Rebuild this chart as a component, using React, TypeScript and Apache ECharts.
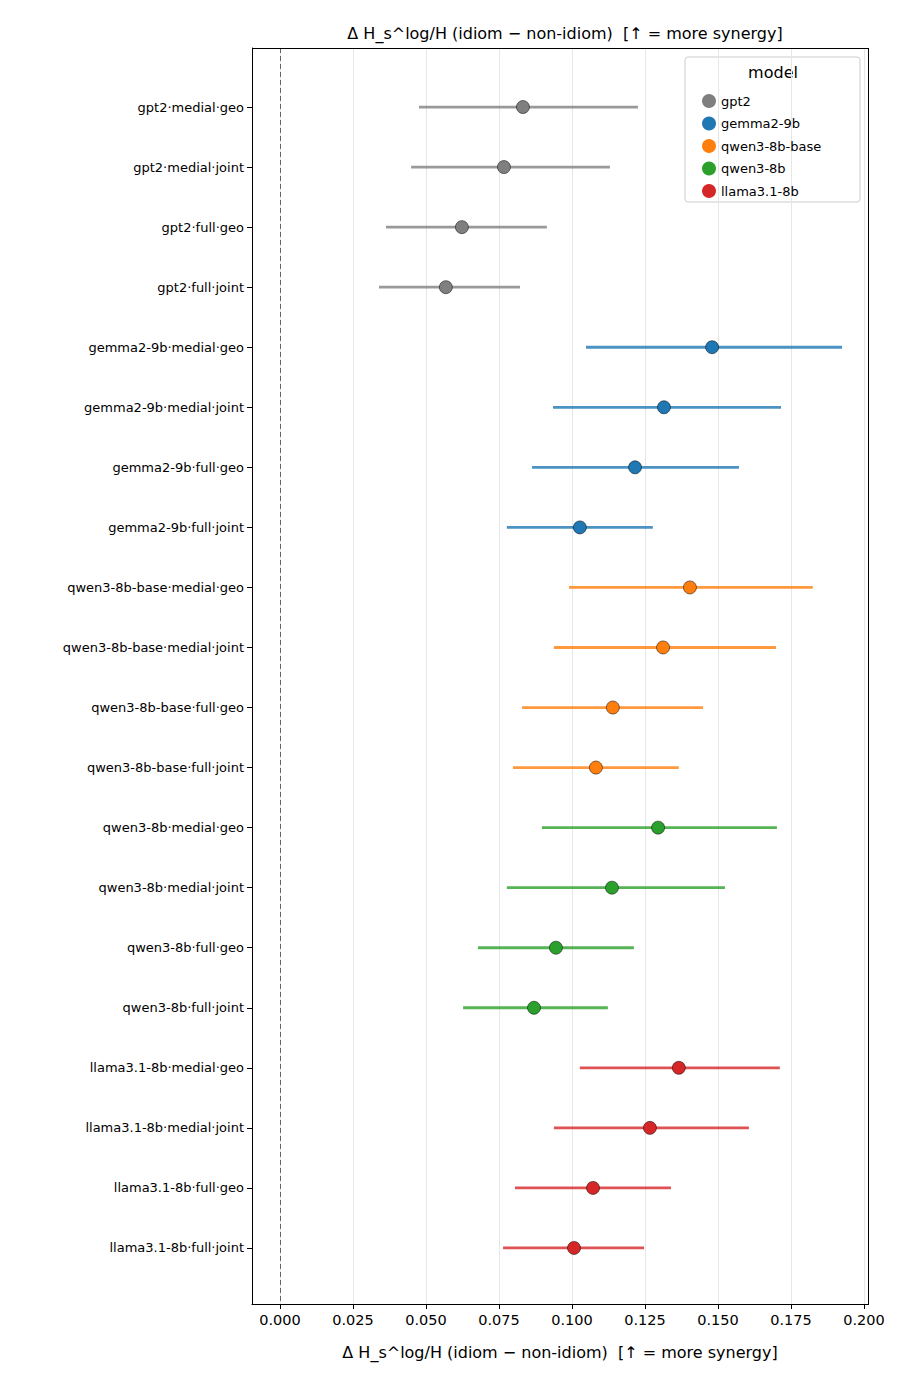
import React, { useEffect, useRef } from "react";
import * as echarts from "echarts";

const rowLabels = [
  "gpt2·medial·geo","gpt2·medial·joint","gpt2·full·geo","gpt2·full·joint",
  "gemma2-9b·medial·geo","gemma2-9b·medial·joint","gemma2-9b·full·geo","gemma2-9b·full·joint",
  "qwen3-8b-base·medial·geo","qwen3-8b-base·medial·joint","qwen3-8b-base·full·geo","qwen3-8b-base·full·joint",
  "qwen3-8b·medial·geo","qwen3-8b·medial·joint","qwen3-8b·full·geo","qwen3-8b·full·joint",
  "llama3.1-8b·medial·geo","llama3.1-8b·medial·joint","llama3.1-8b·full·geo","llama3.1-8b·full·joint",
];
const models = ["gpt2", "gemma2-9b", "qwen3-8b-base", "qwen3-8b", "llama3.1-8b"];
const colors = ["#7f7f7f", "#1f77b4", "#ff7f0e", "#2ca02c", "#d62728"];
const points = [0.0832,0.0767,0.0623,0.0568, 0.148,0.1315,0.1216,0.1027, 0.1404,0.1312,0.114,0.1082, 0.1295,0.1137,0.0945,0.087, 0.1366,0.1267,0.1072,0.1007];
const ciLow = [0.0476,0.0449,0.0363,0.0339, 0.1048,0.0935,0.0863,0.0777, 0.099,0.0938,0.0829,0.0798, 0.0897,0.0777,0.0678,0.0627, 0.1027,0.0938,0.0805,0.0764];
const ciHigh = [0.1226,0.113,0.0914,0.0822, 0.1925,0.1716,0.1572,0.1277, 0.1825,0.1699,0.1449,0.1366, 0.1702,0.1524,0.1212,0.1123, 0.1712,0.1606,0.1339,0.1247];
const xTicks = [0, 0.025, 0.05, 0.075, 0.1, 0.125, 0.15, 0.175, 0.2];
const titleText = "Δ H_s^log/H (idiom − non-idiom)  [↑ = more synergy]";

export default function App() {
  const ref = useRef<HTMLDivElement>(null);
  useEffect(() => {
    const chart = echarts.init(ref.current!, undefined, { renderer: "svg" });
    const font = "DejaVu Sans";
    const series: any[] = [];
    const rowIdx = rowLabels.map((_, i) => i);
    models.forEach((m, mi) => {
      const idx = rowIdx.filter((i) => Math.floor(i / 4) === mi);
      series.push({
        type: "custom",
        name: m,
        silent: true,
        itemStyle: { color: colors[mi] },
        renderItem: (params: any, api: any) => {
          const a = api.coord([api.value(0), api.value(2)]);
          const b = api.coord([api.value(1), api.value(2)]);
          return { type: "line", shape: { x1: a[0], y1: a[1], x2: b[0], y2: b[1] }, style: { stroke: colors[mi], lineWidth: 2.8, opacity: 0.8 } };
        },
        data: idx.map((i) => [ciLow[i], ciHigh[i], i]),
        z: 2,
      });
      series.push({
        type: "scatter",
        name: m,
        symbolSize: 13,
        itemStyle: { color: colors[mi], borderColor: "#000", borderWidth: 0.5, opacity: 1 },
        data: idx.map((i) => [points[i], i]),
        z: 3,
      });
    });
    series.push({
      type: "line", data: [], silent: true,
      markLine: { symbol: "none", silent: true, label: { show: false }, lineStyle: { type: [5, 3], color: "#666", width: 1 }, data: [{ xAxis: 0 }] },
    });
    chart.setOption({
      animation: false,
      textStyle: { fontFamily: font },
      title: { text: titleText, left: 560, top: 20, textAlign: "center", textStyle: { fontFamily: font, fontSize: 16, fontWeight: "normal", color: "#000" } },
      grid: { left: 252, right: 42, top: 48, bottom: 82 },
      legend: {
        data: models.map((m, i) => ({ name: m, itemStyle: { color: colors[i], borderWidth: 0 } })),
        orient: "vertical", left: 697, top: 89, itemGap: 8.5, itemWidth: 14, itemHeight: 14, icon: "circle",
        textStyle: { fontFamily: font, fontSize: 13, color: "#000" },
      },
      graphic: [
        { type: "rect", shape: { x: 685, y: 57, width: 175, height: 145, r: 3 }, style: { fill: "rgba(255,255,255,0.8)", stroke: "#ccc", lineWidth: 1 }, z: 0 },
        { type: "text", x: 773, y: 72, style: { text: "model", font: `16px ${font}`, fill: "#000", textAlign: "center", textVerticalAlign: "middle" } },
      ],
      xAxis: {
        type: "value", min: -0.0096, max: 0.2014,
        name: titleText, nameLocation: "middle", nameGap: 40, nameTextStyle: { fontFamily: font, fontSize: 16, color: "#000" },
        axisLine: { show: true, onZero: false, lineStyle: { color: "#000" } },
        axisTick: { show: true, length: 5, lineStyle: { color: "#000" }, customValues: xTicks },
        axisLabel: { fontFamily: font, fontSize: 14.5, color: "#000", customValues: xTicks, formatter: (v: number) => v.toFixed(3), margin: 8 },
        splitLine: { show: true, lineStyle: { color: "#e6e6e6" } },
      },
      yAxis: {
        type: "value", min: -0.983, max: 19.933, inverse: true,
        axisLine: { show: true, onZero: false, lineStyle: { color: "#000" } },
        axisTick: { show: true, length: 5, lineStyle: { color: "#000" }, customValues: rowIdx },
        axisLabel: { fontFamily: font, fontSize: 13, color: "#000", customValues: rowIdx, formatter: (v: number) => rowLabels[Math.round(v)] ?? "", margin: 8 },
        splitLine: { show: false },
      },
      series,
    });
    return () => chart.dispose();
  }, []);
  return (
    <div style={{ position: "absolute", left: 0, top: 0, width: 910, height: 1386, background: "#fff" }}>
      <div ref={ref} style={{ width: 910, height: 1386 }} />
      <div style={{ position: "absolute", left: 252, top: 48, width: 615, height: 1255, border: "1px solid #000", pointerEvents: "none" }} />
    </div>
  );
}
